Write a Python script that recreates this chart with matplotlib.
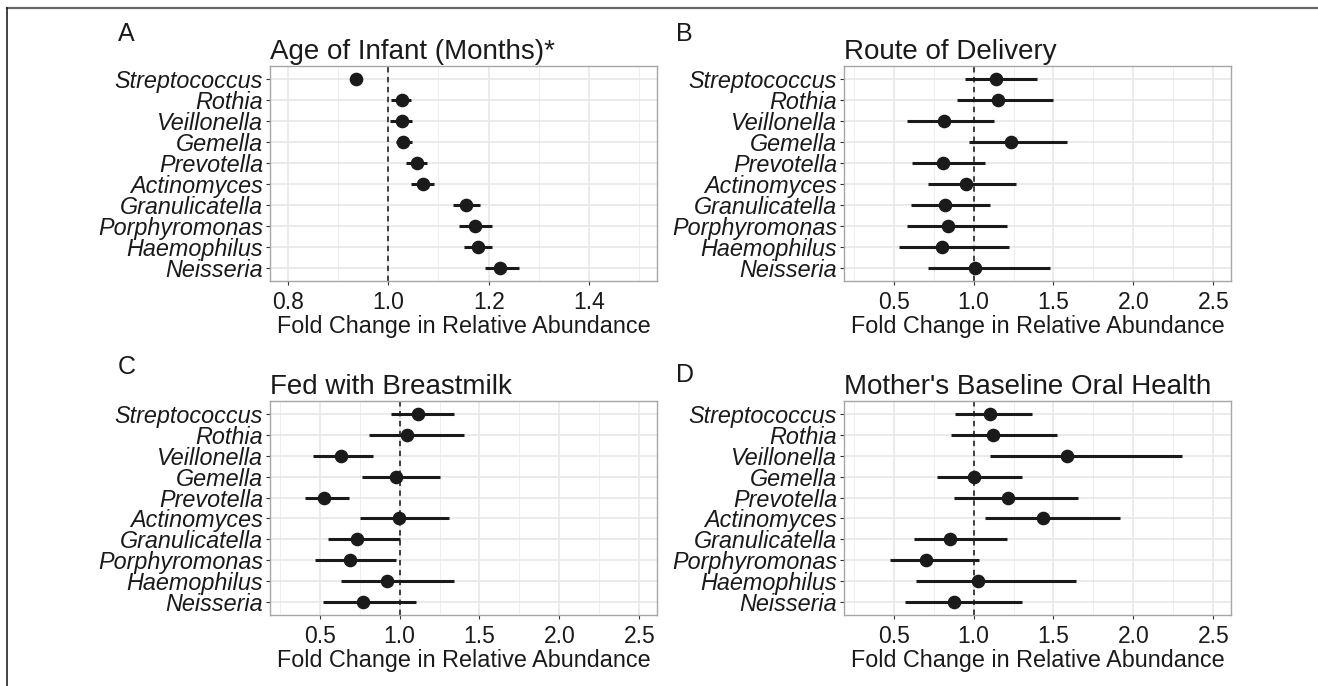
import matplotlib
matplotlib.use("Agg")
import matplotlib.pyplot as plt
from matplotlib.lines import Line2D
from matplotlib.ticker import MultipleLocator

plt.rcParams['font.family'] = ['Liberation Sans', 'DejaVu Sans']

# genera, top to bottom as drawn
genera = ["Streptococcus", "Rothia", "Veillonella", "Gemella", "Prevotella",
          "Actinomyces", "Granulicatella", "Porphyromonas", "Haemophilus", "Neisseria"]

# A: Age of Infant (Months)
age_est = [0.937, 1.027, 1.028, 1.030, 1.057, 1.070, 1.154, 1.173, 1.179, 1.223]
age_lo = [0.930, 1.005, 1.004, 1.015, 1.036, 1.046, 1.129, 1.142, 1.150, 1.193]
age_hi = [0.944, 1.046, 1.048, 1.048, 1.078, 1.092, 1.182, 1.207, 1.206, 1.261]

# B: Route of Delivery
route_est = [1.138, 1.154, 0.815, 1.235, 0.812, 0.953, 0.822, 0.843, 0.804, 1.010]
route_lo = [0.948, 0.896, 0.582, 0.974, 0.616, 0.713, 0.606, 0.582, 0.535, 0.713]
route_hi = [1.400, 1.496, 1.131, 1.582, 1.073, 1.264, 1.104, 1.209, 1.222, 1.478]

# C: Fed with Breastmilk
milk_est = [1.118, 1.045, 0.632, 0.979, 0.526, 0.997, 0.737, 0.689, 0.921, 0.774]
milk_lo = [0.947, 0.810, 0.460, 0.763, 0.410, 0.755, 0.550, 0.474, 0.637, 0.524]
milk_hi = [1.342, 1.400, 0.837, 1.253, 0.684, 1.308, 1.000, 0.979, 1.342, 1.103]

# D: Mother's Baseline Oral Health
oral_est = [1.102, 1.123, 1.587, 1.000, 1.217, 1.436, 0.854, 0.705, 1.031, 0.875]
oral_lo = [0.883, 0.856, 1.104, 0.773, 0.875, 1.073, 0.629, 0.478, 0.640, 0.569]
oral_hi = [1.368, 1.522, 2.303, 1.300, 1.653, 1.919, 1.209, 1.034, 1.640, 1.300]

W, H = 1318, 686
fig = plt.figure(figsize=(W / 100, H / 100), dpi=100)


def px_axes(left, top, right, bottom):
    return fig.add_axes([left / W, 1 - bottom / H, (right - left) / W, (bottom - top) / H])


def forest(ax, title, est, lo, hi, xlim, major, minor):
    n = len(genera)
    ys = [n - i for i in range(n)]
    ax.set_xlim(*xlim)
    ax.set_ylim(0.4, n + 0.6)
    ax.xaxis.set_major_locator(MultipleLocator(major))
    ax.xaxis.set_minor_locator(MultipleLocator(minor))
    ax.set_yticks(ys)
    ax.set_yticklabels(genera, fontstyle='italic', fontsize=16.8, color='#1a1a1a')
    ax.grid(which='major', color='#e6e6e6', lw=1.1)
    ax.grid(which='minor', axis='x', color='#eeeeee', lw=0.7)
    ax.set_axisbelow(True)
    ax.axvline(1.0, color='#333333', ls=(0, (3, 2.5)), lw=1.3, zorder=2)
    ax.hlines(ys, lo, hi, color='#1a1a1a', lw=2.2, zorder=3)
    ax.plot(est, ys, 'o', color='#1a1a1a', ms=8.8, zorder=4)
    for s in ax.spines.values():
        s.set_color('#a6a6a6')
        s.set_linewidth(1.0)
    ax.tick_params(axis='both', which='major', length=3, color='#333333', width=0.8)
    ax.tick_params(axis='x', which='minor', length=0)
    ax.tick_params(axis='x', labelsize=16.5, labelcolor='#1a1a1a', pad=4)
    ax.tick_params(axis='y', pad=2)
    ax.set_xlabel("Fold Change in Relative Abundance", fontsize=16.8, color='#1a1a1a', labelpad=1)
    ax.set_title(title, loc='left', fontsize=20, color='#1a1a1a', pad=5)


axA = px_axes(270, 66, 657, 281)
forest(axA, "Age of Infant (Months)*", age_est, age_lo, age_hi, (0.765, 1.535), 0.2, 0.1)
axB = px_axes(844, 66, 1231, 281)
forest(axB, "Route of Delivery", route_est, route_lo, route_hi, (0.19, 2.61), 0.5, 0.25)
axC = px_axes(270, 401, 657, 615)
forest(axC, "Fed with Breastmilk", milk_est, milk_lo, milk_hi, (0.19, 2.61), 0.5, 0.25)
axD = px_axes(844, 401, 1231, 615)
forest(axD, "Mother's Baseline Oral Health", oral_est, oral_lo, oral_hi, (0.19, 2.61), 0.5, 0.25)

# panel letters
for letter, x, y in [("A", 118, 34), ("B", 676, 34), ("C", 118, 367), ("D", 676, 375)]:
    fig.text(x / W, 1 - y / H, letter, fontsize=18, color='#1a1a1a', va='center', ha='left')

# outer frame lines
fig.add_artist(Line2D([7 / W, 1], [1 - 7.5 / H, 1 - 7.5 / H], color='#666666', lw=1.6,
                      transform=fig.transFigure))
fig.add_artist(Line2D([7 / W, 7 / W], [0, 1 - 7.5 / H], color='#222222', lw=1.2,
                      transform=fig.transFigure))

fig.savefig("out.png", dpi=100, facecolor='white')
